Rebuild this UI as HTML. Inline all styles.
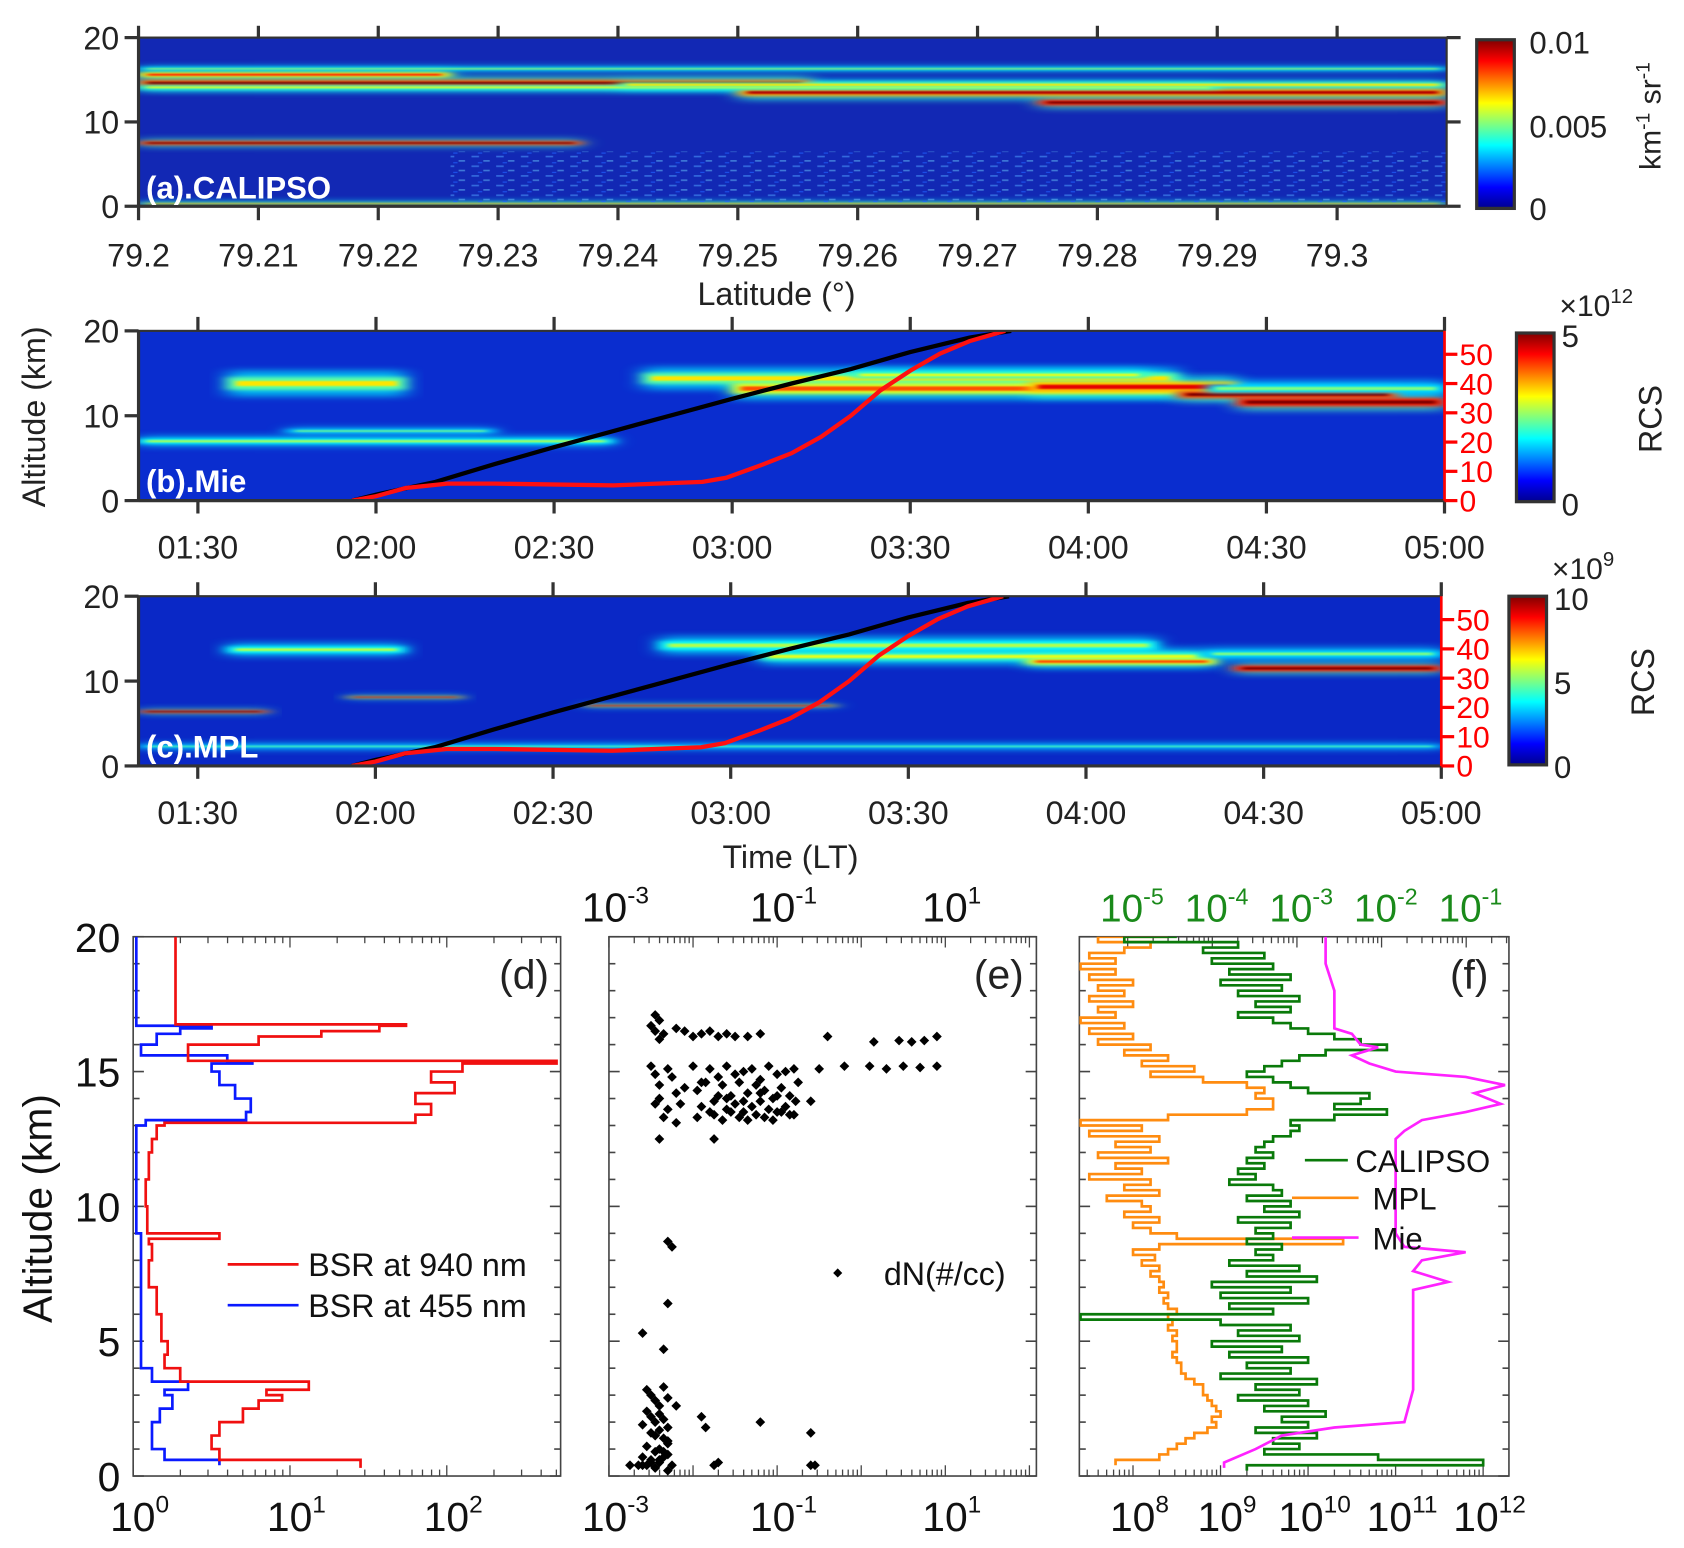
<!DOCTYPE html>
<html><head><meta charset="utf-8"><style>
html,body{margin:0;padding:0;background:#fff}
svg{display:block}
text{font-family:"Liberation Sans",sans-serif}
</style></head><body>
<svg id="fig" xmlns="http://www.w3.org/2000/svg" width="1684" height="1548" viewBox="0 0 1568 1441" preserveAspectRatio="none">
<defs>
<linearGradient id="jet" x1="0" y1="1" x2="0" y2="0">
<stop offset="0" stop-color="#00008f"/><stop offset="0.125" stop-color="#0000ff"/><stop offset="0.375" stop-color="#00ffff"/><stop offset="0.625" stop-color="#ffff00"/><stop offset="0.875" stop-color="#ff0000"/><stop offset="1" stop-color="#800000"/>
</linearGradient>
<filter id="blur" x="-10%" y="-200%" width="120%" height="500%"><feGaussianBlur stdDeviation="6 1.5"/></filter>
<filter id="blur2" x="-10%" y="-200%" width="120%" height="500%"><feGaussianBlur stdDeviation="3 0.8"/></filter>
<filter id="blur3" x="-10%" y="-200%" width="120%" height="500%"><feGaussianBlur stdDeviation="10 3"/></filter>
<pattern id="speck" width="23" height="9" patternUnits="userSpaceOnUse">
<rect x="2" y="1" width="7" height="1.5" fill="#4fa0ff" opacity="0.7"/><rect x="13" y="5" width="6" height="1.5" fill="#6fd0ff" opacity="0.6"/><rect x="8" y="7" width="4" height="1" fill="#2060ff"/>
</pattern>
<clipPath id="clipA"><rect x="129" y="35" width="1218" height="157"/></clipPath>
<clipPath id="clipB"><rect x="129" y="308" width="1216" height="158"/></clipPath>
<clipPath id="clipC"><rect x="129" y="555" width="1213" height="158"/></clipPath>
<clipPath id="clipD"><rect x="124" y="872" width="398" height="502"/></clipPath>
<clipPath id="clipF"><rect x="1005" y="872" width="400" height="502"/></clipPath>
</defs>
</svg>
<script>
// ---------- DATA ----------
const aStart=[79.2,79.2,79.25,79.275,79.2,79.2,79.2,79.2,79.24];
const aEnd=[79.226,79.256,79.309,79.309,79.309,79.237,79.309,79.29,79.309];
const aAlt=[15.6,14.6,13.5,12.3,16.3,7.5,0.3,14.1,14.4];
const aThick=[0.6,0.8,0.9,0.7,0.3,0.45,0.25,0.5,0.6];
const aLevel=[0.75,0.92,0.85,1.0,0.45,0.95,0.6,0.5,0.55];
const bStart=[15,85,100,150,175,185,0,25,180,120];
const bEnd=[45,175,175,185,212,220,80,60,220,170];
const bAlt=[13.8,14.4,13.2,13.4,12.5,11.6,7.0,8.2,13.2,14.8];
const bThick=[1.5,1.3,1.3,1.3,0.9,1.0,0.6,0.4,1.0,0.8];
const bLevel=[0.55,0.55,0.7,0.8,0.95,1.0,0.45,0.4,0.4,0.5];
const cStart=[15,88,105,150,185,0,0,35,75,180];
const cEnd=[45,172,180,182,220,22,220,55,118,220];
const cAlt=[13.7,14.2,12.9,12.3,11.5,6.4,2.3,8.1,7.1,13.2];
const cThick=[0.8,1.1,1.0,0.8,0.7,0.3,0.4,0.2,0.2,0.8];
const cLevel=[0.45,0.45,0.5,0.7,1.0,0.95,0.35,0.8,0.8,0.4];
// balloon altitude track (minutes after 01:20, km)
const altTime=[36,40,50,60,70,80,90,100,110,120,130,140,147];
const altKm=[0,0.7,2.2,4.3,6.3,8.2,10.1,12.0,13.8,15.5,17.5,19.2,20];
// balloon horizontal distance (minutes after 01:20, km on right axis)
const distTime=[36,40,45,52,60,80,95,99,105,110,115,120,125,130,135,140,146];
const distKm=[0,1.5,4.3,5.8,5.8,5.2,6.4,7.8,12.2,16.2,21.8,29,37.7,44.4,50.2,54.5,58];
const redAlt=[0.3,0.4,0.6,1.0,1.5,2.0,2.5,2.8,3.0,3.2,3.5,4.0,4.5,5.0,6.0,7.0,8.0,8.6,8.8,9.0,10,11,12,12.5,13.0,13.1,13.4,13.8,14.2,14.6,15.0,15.3,15.4,15.6,16.0,16.3,16.5,16.7,16.75,20];
const redLog=[1.45,1.45,0.55,0.5,0.55,0.7,0.8,0.95,0.85,1.12,0.3,0.2,0.22,0.18,0.15,0.1,0.12,0.1,0.55,0.09,0.08,0.1,0.12,0.15,0.2,1.8,1.9,1.8,2.05,1.9,2.1,2.7,0.35,0.35,0.8,1.2,1.57,1.74,0.27,0.27];
const blueAlt=[0.4,0.6,1.0,1.5,2.0,2.5,3.0,3.2,3.5,4.0,9.0,12.0,13.0,13.2,13.5,14.0,14.5,15.0,15.3,15.4,15.6,16.0,16.4,16.6,16.7,20];
const blueLog=[0.55,0.2,0.12,0.12,0.17,0.25,0.2,0.35,0.12,0.05,0.02,0.02,0.08,0.72,0.75,0.65,0.55,0.5,0.76,0.6,0.05,0.15,0.3,0.5,0.02,0.02];
const eLog=[-2.45,-2.4,-2.5,-2.45,-2.35,-2.4,-2.2,-2.1,-1.9,-1.8,-1.7,-1.6,-1.5,-1.2,-0.4,0.15,0.45,0.6,0.75,0.9,-2.0,-1.35,
0.9,0.7,0.5,0.3,0.1,-0.2,-0.5,
-2.5,-2.45,-2.4,-2.3,-2.2,-2.0,-1.9,-1.8,-1.7,-1.6,-1.5,-1.4,-1.3,-1.2,-1.1,-1.0,-0.9,-0.8,-0.75,
-2.4,-2.3,-2.1,-1.95,-1.85,-1.75,-1.65,-1.55,-1.45,-1.35,-1.25,-1.15,-1.05,-0.95,-0.85,-0.78,
-2.35,-2.25,-2.15,-1.9,-1.8,-1.7,-1.6,-1.5,-1.4,-1.3,-1.2,-1.1,-1.0,-0.9,-0.8,-0.6,
-2.45,-2.2,-1.95,-1.75,-1.65,-1.55,-1.45,-1.35,-1.25,-1.15,-1.05,-0.95,-0.85,-1.6,-1.4,-1.2,-1.0,
-2.4,-1.75,-2.3,-2.25,-2.3,-2.6,-2.35,
-2.55,-2.5,-2.45,-2.4,-2.35,-2.3,-2.55,-2.5,-2.45,-2.4,-2.35,-2.3,-2.6,-2.5,-2.45,-2.4,-2.35,-2.3,-2.55,-2.45,-2.4,-2.3,-2.6,-2.5,-2.4,-2.35,-2.25,-2.55,-2.45,-2.4,-2.3,-2.6,-2.5,-2.45,-2.35,-2.3,
-1.9,-1.85,-1.7,-1.75,-1.2,-0.6,-0.6,-0.55,-2.75,-2.65,-2.2];
const eAlt=[17.1,16.9,16.7,16.5,16.4,16.2,16.6,16.5,16.4,16.5,16.3,16.4,16.3,16.4,16.3,16.1,16.15,16.1,16.15,16.3,16.3,16.3,
15.2,15.15,15.2,15.1,15.2,15.2,15.1,
15.2,14.9,14.5,15.1,14.2,15.2,14.6,15.1,14.8,15.2,14.9,15.0,15.1,14.7,15.2,14.9,15.0,15.1,14.6,
14.0,13.6,14.4,14.3,14.6,13.9,14.5,14.1,14.6,14.2,14.5,14.3,14.0,14.4,14.1,13.9,
13.3,14.8,13.8,13.7,13.5,14.1,13.6,13.8,13.5,13.7,13.9,13.6,13.5,13.7,13.4,13.9,
13.8,13.1,13.3,13.4,13.2,13.5,13.3,13.2,13.4,13.3,13.2,13.5,13.4,14.0,13.9,14.2,14.1,
12.5,12.5,8.7,8.5,6.4,5.3,4.7,
3.2,3.0,2.8,2.6,3.3,2.9,2.4,2.2,2.0,2.3,2.1,1.8,1.9,1.6,1.5,1.7,1.4,1.2,1.1,0.9,1.0,0.8,0.7,0.6,0.5,0.7,0.4,0.4,0.3,0.6,0.2,0.4,0.5,0.3,0.9,1.3,
2.2,1.8,0.5,0.4,2.0,1.6,0.4,0.4,0.4,0.4,2.6];
const calipsoStart=0.2;
const calipsoLog=[9.3,12.0,10.8,9.5,9.9,9.6,10.1,9.4,10.0,9.7,10.2,9.5,10.0,9.2,9.9,9.4,10.1,9.0,9.8,9.3,10.0,9.1,9.7,8.9,9.9,9.2,9.8,9.0,7.4,9.6,9.1,10.0,9.0,9.8,8.9,10.1,9.3,9.9,9.1,9.6,9.4,9.7,9.3,9.6,9.4,9.8,9.2,9.9,9.5,9.8,9.3,9.7,9.6,9.1,9.4,9.2,9.5,9.3,9.6,9.4,9.5,9.6,9.8,9.9,9.8,10.3,10.9,10.3,10.6,10.7,10.0,9.8,9.6,9.3,9.5,9.7,9.9,10.2,10.9,10.6,10.3,10.0,9.8,9.6,9.2,9.8,9.4,9.9,9.2,9.7,9.0,9.8,9.1,9.6,8.9,9.5,8.8,9.2,7.9,8.5];
const mplStart=0.4;
const mplLog=[7.8,8.3,8.4,8.5,8.6,8.7,8.85,8.95,8.9,9.0,8.95,8.9,8.85,8.8,8.8,8.7,8.6,8.55,8.55,8.5,8.45,8.5,8.5,8.45,8.5,8.4,8.45,8.4,8.5,8.4,8.35,8.4,8.3,8.35,8.3,8.2,8.3,8.1,8.25,8.0,8.3,10.4,8.5,8.2,8.0,8.3,7.9,8.2,8.1,7.7,8.3,7.9,8.2,7.5,8.1,7.8,8.4,7.6,8.2,7.8,8.3,7.5,8.1,7.4,8.4,9.3,9.6,9.6,9.4,9.5,9.3,8.8,8.2,8.7,8.1,8.4,7.9,8.2,7.6,8.0,7.5,7.9,7.4,7.8,7.6,8.0,7.5,7.9,7.6,8.0,7.5,7.8,7.4,7.8,7.5,7.9,8.2,7.6,8.4];
const mieAlt=[0.3,0.5,1.0,1.5,1.8,2.0,3.2,4.5,6.5,6.9,7.2,7.6,8.0,8.3,8.5,9.0,12.5,12.8,13.2,13.5,13.8,14.2,14.5,14.8,15.0,15.3,15.6,15.9,16.0,16.4,16.6,17.2,18,19,20];
const mieLog=[9.04,9.04,9.4,9.7,10.3,11.1,11.2,11.2,11.2,11.2,11.6,11.2,11.3,11.8,11.1,11.0,11.0,11.1,11.3,11.8,12.2,11.9,12.25,11.8,11.0,10.7,10.5,10.8,10.6,10.5,10.3,10.3,10.3,10.2,10.2];

// ---------- DRAWING ----------
const NS='http://www.w3.org/2000/svg';
const svg=document.getElementById('fig');
function mk(tag,attrs,parent){const e=document.createElementNS(NS,tag);for(const k in attrs)e.setAttribute(k,attrs[k]);(parent||svg).appendChild(e);return e;}
function txt(x,y,s,size,anchor,fill,parent){const t=mk('text',{x:x,y:y,'font-size':size,'text-anchor':anchor||'middle',fill:fill||'#222'},parent);t.textContent=s;return t;}
function pow10(x,y,base,exp,size,fill){const t=mk('text',{x:x,y:y,'font-size':size,'text-anchor':'middle',fill:fill||'#111'});const a=mk('tspan',{},t);a.textContent=base;const b=mk('tspan',{dy:-size*0.45,'font-size':size*0.6},t);b.textContent=exp;return t;}
function jet(v){v=Math.max(0,Math.min(1,v));const r=Math.min(1,Math.max(0,1.5-Math.abs(4*v-3))),g=Math.min(1,Math.max(0,1.5-Math.abs(4*v-2))),b=Math.min(1,Math.max(0,1.5-Math.abs(4*v-1)));return 'rgb('+Math.round(r*255)+','+Math.round(g*255)+','+Math.round(b*255)+')';}

function heat(name,clip,x0,y0,x1,y1,dom0,dom1,bg,S,E,A,T,L){
  const g=mk('g',{'clip-path':'url(#'+clip+')'});
  
  
  const bgr=mk('rect',{x:x0,y:y0,width:x1-x0,height:y1-y0,fill:bg},g);
  
  
  const sx=v=>x0+(v-dom0)/(dom1-dom0)*(x1-x0), sy=a=>y1-a/20*(y1-y0);
  for(let i=0;i<S.length;i++){
    const a=sx(S[i]),b=sx(E[i]);
    const halo=mk('rect',{x:a,y:sy(A[i]+T[i]),width:b-a,height:2*T[i]/20*(y1-y0),fill:jet(0.25+L[i]*0.2),opacity:0.7,filter:'url(#blur3)'},g);
    
    
  }
  for(let i=0;i<S.length;i++){
    const a=sx(S[i]),b=sx(E[i]);
    const cell=mk('rect',{x:a,y:sy(A[i]+T[i]/2),width:b-a,height:T[i]/20*(y1-y0),fill:jet(L[i]*0.85),filter:'url(#blur)'},g);
    
    
    const core=mk('rect',{x:a+8,y:sy(A[i]+T[i]/5),width:Math.max(0,b-a-16),height:T[i]/50*(y1-y0),fill:jet(Math.min(1,L[i]+0.1)),filter:'url(#blur2)'},g);
    
    
  }
  return {g,sx,sy};
}
function frameTop(name,x0,y0,x1,y1){
  const f=mk('rect',{x:x0,y:y0,width:x1-x0,height:y1-y0,fill:'none',stroke:'#333','stroke-width':2});
  
  
  mk('line',{x1:x0,y1:y0,x2:x0,y2:y1,stroke:'#333','stroke-width':3});
  mk('line',{x1:x0,y1:y1,x2:x1,y2:y1,stroke:'#333','stroke-width':3});
  [0,10,20].forEach(v=>{const y=y1-v/20*(y1-y0);mk('line',{x1:x0-13,y1:y,x2:x0,y2:y,stroke:'#333','stroke-width':3});
    const t=txt(x0-18,y+11,String(v),30,'end');});
}

// ----- panel a -----
const pa=heat('calipso-heatmap','clipA',129,35,1347,192,79.2,79.309,'#1228b4',aStart,aEnd,aAlt,aThick,aLevel);
const sp=mk('rect',{x:pa.sx(79.226),y:pa.sy(6.5),width:pa.sx(79.309)-pa.sx(79.226),height:pa.sy(0.3)-pa.sy(6.5),fill:'url(#speck)',opacity:0.8},pa.g);


frameTop('panel-a',129,35,1347,192);
[0,10,20].forEach(v=>{const y=192-v/20*157;mk('line',{x1:1347,y1:y,x2:1360,y2:y,stroke:'#333','stroke-width':3});});
['79.2','79.21','79.22','79.23','79.24','79.25','79.26','79.27','79.28','79.29','79.3'].forEach((s,i)=>{
  const x=129+i*111.6;mk('line',{x1:x,y1:192,x2:x,y2:205,stroke:'#333','stroke-width':3});mk('line',{x1:x,y1:35,x2:x,y2:24,stroke:'#333','stroke-width':3});
  const t=txt(x,248,s,30);});
let t=txt(723,284,'Latitude (°)',30);
t=txt(136,185,'(a).CALIPSO',29,'start','#fff');t.setAttribute('font-weight','bold');
let cb=mk('rect',{x:1375,y:37,width:35,height:157,fill:'url(#jet)',stroke:'#333','stroke-width':3});
[['0.01',50],['0.005',128],['0',205]].forEach(p=>{const q=txt(1424,p[1],p[0],29,'start');});
t=mk('text',{x:0,y:0,'font-size':28,'text-anchor':'middle',fill:'#222',transform:'translate(1546,108) rotate(-90)'});
const u1=mk('tspan',{},t);u1.textContent='km';const u2=mk('tspan',{dy:-10,'font-size':18},t);u2.textContent='-1';const u3=mk('tspan',{dy:10},t);u3.textContent=' sr';const u4=mk('tspan',{dy:-10,'font-size':18},t);u4.textContent='-1';

// ----- panels b, c -----
const times=['01:30','02:00','02:30','03:00','03:30','04:00','04:30','05:00'];
function timePanel(key,clip,x0,y0,x1,y1,bg,S,E,A,T,L,lbl,cbx,cbTop,cbLabels,cbExp){
  const p=heat(key+'-heatmap',clip,x0,y0,x1,y1,0,220,bg,S,E,A,T,L);
  const blk=mk('polyline',{points:altTime.map((m,i)=>p.sx(m)+','+p.sy(altKm[i])).join(' '),fill:'none',stroke:'#000','stroke-width':4,'clip-path':'url(#'+clip+')'});
  
  const red=mk('polyline',{points:distTime.map((m,i)=>p.sx(m)+','+p.sy(distKm[i]*20/58)).join(' '),fill:'none',stroke:'#ff1010','stroke-width':4,'clip-path':'url(#'+clip+')'});
  
  frameTop('panel-'+key,x0,y0,x1,y1);
  times.forEach((s,i)=>{const x=p.sx(10+30*i);mk('line',{x1:x,y1:y1,x2:x,y2:y1+12,stroke:'#333','stroke-width':3});mk('line',{x1:x,y1:y0,x2:x,y2:y0-13,stroke:'#333','stroke-width':3});
    const q=txt(x,y1+54,s,30);});
  mk('line',{x1:x1,y1:y0,x2:x1,y2:y1,stroke:'#f00','stroke-width':2.5});
  [0,10,20,30,40,50].forEach(v=>{const y=y1-v/58*(y1-y0);mk('line',{x1:x1,y1:y,x2:x1+12,y2:y,stroke:'#f00','stroke-width':3});
    const q=txt(x1+14,y+10,String(v),28,'start','#f00');});
  const q=txt(x0+7,y1-8,lbl,29,'start','#fff');q.setAttribute('font-weight','bold');
  const c=mk('rect',{x:cbx,y:cbTop,width:35,height:157,fill:'url(#jet)',stroke:'#333','stroke-width':3});
  cbLabels.forEach(p2=>{const r=txt(cbx+42,p2[1],p2[0],29,'start');});
  const ex=mk('text',{x:cbx+40,y:cbTop-16,'font-size':28,fill:'#222'});
  const e1=mk('tspan',{},ex);e1.textContent='×10';const e2=mk('tspan',{dy:-12,'font-size':19},ex);e2.textContent=cbExp;
  const rc=mk('text',{x:0,y:0,'font-size':30,'text-anchor':'middle',fill:'#222',transform:'translate('+(cbx+135)+','+(cbTop+80)+') rotate(-90)'});rc.textContent='RCS';
}
timePanel('b','clipB',129,308,1345,466,'#0a2dcf',bStart,bEnd,bAlt,bThick,bLevel,'(b).Mie',1412,310,[['5',323],['0',480]],'12');
timePanel('c','clipC',129,555,1342,713,'#0a28c6',cStart,cEnd,cAlt,cThick,cLevel,'(c).MPL',1405,555,[['10',568],['5',646],['0',724]],'9');
t=txt(736,808,'Time (LT)',30);
t=mk('text',{x:0,y:0,'font-size':30,'text-anchor':'middle',fill:'#222',transform:'translate(42,388) rotate(-90)'});t.textContent='Altitude (km)';

// ----- bottom panels -----
const Y0=1374,Y1=872;const ay=a=>Y0-a/20*(Y0-Y1);
function box(name,x0,x1){const r=mk('rect',{x:x0,y:Y1,width:x1-x0,height:Y0-Y1,fill:'none',stroke:'#444','stroke-width':1.5});
  for(let a=0;a<=20;a++){const y=ay(a);const L=a%5==0?10:6;mk('line',{x1:x0,y1:y,x2:x0+L,y2:y,stroke:'#444','stroke-width':1.5});mk('line',{x1:x1,y1:y,x2:x1-L,y2:y,stroke:'#444','stroke-width':1.5});}}
function logTicks(x0,x1,l0,per,top){const lmin=Math.floor(l0),lmax=l0+(x1-x0)/per;for(let d=lmin;d<=lmax;d++){for(let m=1;m<10;m++){const l=d+Math.log10(m);if(l<l0||l>lmax)continue;const x=x0+(l-l0)*per;const L=m==1?10:6;mk('line',{x1:x,y1:Y0,x2:x,y2:Y0-L,stroke:'#444','stroke-width':1.2});if(top)mk('line',{x1:x,y1:Y1,x2:x,y2:Y1+L,stroke:'#444','stroke-width':1.2});}}}

const dx=l=>124+146*l;
box('panel-d-frame',124,522);logTicks(124,522,0,146,true);
[0,5,10,15,20].forEach(v=>{const q=txt(112,ay(v)+14,String(v),38,'end','#111');});
[[0,'0'],[1,'1'],[2,'2']].forEach(p=>{const q=pow10(dx(p[0])+6,1425,'10',p[1],38);});
function stepLine(name,alts,logs,sx,color,w,clip){let pts=[];for(let i=0;i<alts.length;i++){pts.push(sx(logs[i])+','+ay(alts[i]));if(i+1<alts.length)pts.push(sx(logs[i])+','+ay(alts[i+1]));}
  const p=mk('polyline',{points:pts.join(' '),fill:'none',stroke:color,'stroke-width':w,'clip-path':'url(#'+clip+')'});return p;}
stepLine('bsr-455-line',blueAlt,blueLog,dx,'#0a1aff',2.5,'clipD');
stepLine('bsr-940-line',redAlt,redLog,dx,'#f01010',2.5,'clipD');
t=txt(488,920,'(d)',38);
mk('line',{x1:212,y1:1177,x2:278,y2:1177,stroke:'#f01010','stroke-width':2.5});
t=txt(287,1188,'BSR at 940 nm',30,'start','#111');
mk('line',{x1:212,y1:1215,x2:278,y2:1215,stroke:'#0a1aff','stroke-width':2.5});
t=txt(287,1226,'BSR at 455 nm',30,'start','#111');
t=mk('text',{x:0,y:0,'font-size':38,'text-anchor':'middle',fill:'#111',transform:'translate(48,1125) rotate(-90)'});t.textContent='Altitude (km)';

const ex=l=>567+78.3*(l+3);
box('panel-e-frame',567,965);logTicks(567,965,-3,78.3,true);
[[-3,'-3'],[-1,'-1'],[1,'1']].forEach(p=>{const q=pow10(ex(p[0])+6,1425,'10',p[1],38);
  const r=pow10(ex(p[0])+6,858,'10',p[1],38);});
for(let i=0;i<eLog.length;i++){const d=mk('rect',{x:ex(eLog[i])-3.2,y:ay(eAlt[i])-3.2,width:6.4,height:6.4,fill:'#000',transform:'rotate(45 '+ex(eLog[i])+' '+ay(eAlt[i])+')'});
  }
mk('rect',{x:777,y:1182,width:6,height:6,fill:'#000',transform:'rotate(45 780 1185)'});
t=txt(823,1196,'dN(#/cc)',30,'start','#111');
t=txt(930,920,'(e)',38);

const fx=l=>1055+81.5*(l-8);
box('panel-f-frame',1005,1405);logTicks(1005,1405,7.387,81.5,false);
[-5,-4,-3,-2,-1].forEach((e,i)=>{const x=1050+i*78.8;for(let m=1;m<10;m++){const xx=x+78.8*Math.log10(m);if(xx<1405)mk('line',{x1:xx,y1:Y1,x2:xx,y2:Y1+(m==1?10:6),stroke:'#444','stroke-width':1.2});}
  const q=pow10(x+4,858,'10',String(e),36,'#1a8a1a');});
[8,9,10,11,12].forEach(v=>{const q=pow10(fx(v)+6,1425,'10',String(v),38);});
const cA=calipsoLog.map((v,i)=>calipsoStart+0.2*i), mA=mplLog.map((v,i)=>mplStart+0.2*i);
stepLine('mpl-line',mA,mplLog,fx,'#ff8c10',2.5,'clipF');
stepLine('calipso-line',cA,calipsoLog,fx,'#0a7a0a',2.5,'clipF');
const mie=mk('polyline',{points:mieAlt.map((a,i)=>fx(mieLog[i])+','+ay(a)).join(' '),fill:'none',stroke:'#ff22ff','stroke-width':2.5,'clip-path':'url(#clipF)'});

t=txt(1368,920,'(f)',38);
mk('line',{x1:1215,y1:1080,x2:1255,y2:1080,stroke:'#0a7a0a','stroke-width':2.5});
t=txt(1262,1091,'CALIPSO',29,'start','#111');
mk('line',{x1:1203,y1:1115,x2:1265,y2:1115,stroke:'#ff8c10','stroke-width':2.5});
t=txt(1278,1126,'MPL',29,'start','#111');
mk('line',{x1:1203,y1:1152,x2:1265,y2:1152,stroke:'#ff22ff','stroke-width':2.5});
t=txt(1278,1163,'Mie',29,'start','#111');
</script>
</body></html>
